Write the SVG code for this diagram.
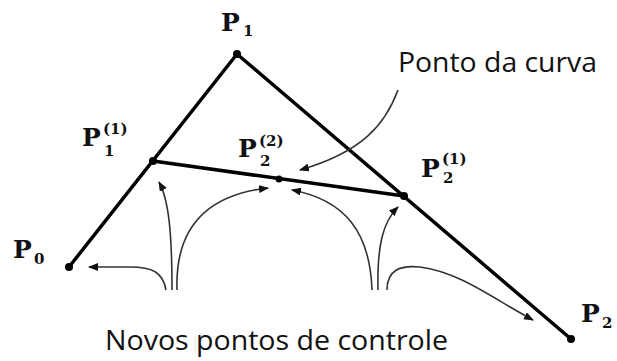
<svg xmlns="http://www.w3.org/2000/svg" width="617" height="361" viewBox="0 0 617 361">
<defs>
<style>
.edge{fill:none;stroke:#000;stroke-width:3.5;stroke-linecap:round;stroke-linejoin:round}
.arr{fill:none;stroke:#333;stroke-width:1.6;marker-end:url(#ah)}
.dot{fill:#000}
.P{font-family:"DejaVu Serif",serif;font-weight:bold;font-size:25px;fill:#111}
.s{font-family:"DejaVu Serif",serif;font-weight:bold;font-size:15px;fill:#111}
.lab{font-family:"Open Sans",sans-serif;font-size:28px;fill:#111}
</style>
<marker id="ah" viewBox="0 0 10 8" refX="9" refY="4" markerWidth="10" markerHeight="8" markerUnits="userSpaceOnUse" orient="auto">
<path d="M0,0 L10,4 L0,8 Z" fill="#111"/>
</marker>
</defs>
<rect width="617" height="361" fill="#fff"/>
<g id="connectors">
<polyline class="edge" points="69,267 237,54 571,339"/>
<line class="edge" x1="153" y1="161" x2="404" y2="196" stroke-width="3"/>
<path class="arr" d="M166,290 C163,272 152,267 130,267 L89,267"/>
<path class="arr" d="M172,290 C172,235 169,200 159,182"/>
<path class="arr" d="M177,290 C175,230 205,195 268,188"/>
<path class="arr" d="M372,290 C370,232 345,200 292,190"/>
<path class="arr" d="M378,290 C377,245 383,222 398,207"/>
<path class="arr" d="M387,290 C387,270 400,265 420,267 C460,272 495,300 533,320"/>
<path class="arr" d="M398,90 C385,125 362,152 300,170"/>
</g>
<g id="P0"><circle class="dot" cx="69" cy="267" r="4"/><text class="P" x="13" y="258">P</text><text class="s" x="34" y="264">0</text></g>
<g id="P1"><circle class="dot" cx="237" cy="54" r="4"/><text class="P" x="221" y="31">P</text><text class="s" x="243" y="36">1</text></g>
<g id="P2"><circle class="dot" cx="571" cy="339" r="4"/><text class="P" x="581" y="322">P</text><text class="s" x="602" y="328">2</text></g>
<g id="P1_1"><circle class="dot" cx="153" cy="161" r="4"/><text class="P" x="82" y="146">P</text><text class="s" x="103" y="134">(1)</text><text class="s" x="104" y="156">1</text></g>
<g id="P2_1"><circle class="dot" cx="404" cy="196" r="4"/><text class="P" x="421" y="177">P</text><text class="s" x="442" y="164">(1)</text><text class="s" x="443" y="183">2</text></g>
<g id="P2_2"><circle class="dot" cx="279" cy="179" r="3.5"/><text class="P" x="238" y="157">P</text><text class="s" x="259" y="146">(2)</text><text class="s" x="260" y="166">2</text></g>
<g id="label-curva"><text class="lab" x="398" y="72" textLength="199" lengthAdjust="spacingAndGlyphs">Ponto da curva</text></g>
<g id="label-controle"><text class="lab" x="105" y="350" textLength="343" lengthAdjust="spacingAndGlyphs">Novos pontos de controle</text></g>
</svg>
